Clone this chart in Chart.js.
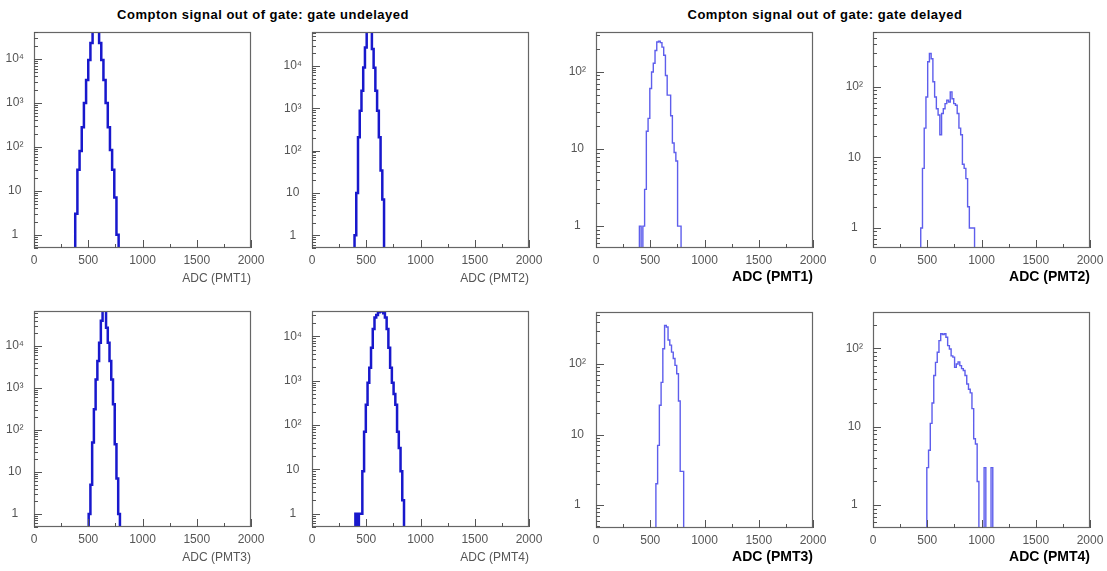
<!DOCTYPE html>
<html>
<head>
<meta charset="utf-8">
<title>Compton signal out of gate</title>
<script src="https://cdn.jsdelivr.net/npm/chart.js@4.4.1/dist/chart.umd.min.js"></script>
<style>
  body { margin: 0; background: #fff; width: 1107px; height: 571px; position: relative; overflow: hidden;
         font-family: "Liberation Sans", Arial, sans-serif; }
  .title { position: absolute; top: 7px; font-weight: bold; font-size: 13px; letter-spacing: 0.5px;
           color: #000; white-space: nowrap; transform: translateX(-50%); }
  canvas { position: absolute; }
</style>
</head>
<body>
<div class="title" style="left:263px">Compton signal out of gate: gate undelayed</div>
<div class="title" style="left:825px">Compton signal out of gate: gate delayed</div>
<canvas id="u0"></canvas><canvas id="u1"></canvas><canvas id="d0"></canvas><canvas id="d1"></canvas>
<canvas id="u2"></canvas><canvas id="u3"></canvas><canvas id="d2"></canvas><canvas id="d3"></canvas>
<script>
var xTicks = [0, 500, 1000, 1500, 2000];
var adcLabels = ['ADC (PMT1)', 'ADC (PMT2)', 'ADC (PMT3)', 'ADC (PMT4)'];

// gate undelayed: counts per ADC bin
var undelayedPMT1 = [3, 30, 80, 280, 1000, 3300, 9500, 23000, 60000, 70000, 55000, 23000, 9500, 3300, 1000, 280, 85, 30, 7, 1];
var undelayedPMT2 = [1, 10, 205, 870, 2600, 9100, 27000, 70000, 90000, 70000, 25000, 9000, 2600, 870, 205, 34, 7];
var undelayedPMT3 = [1, 5, 50, 310, 1600, 4400, 12000, 40000, 90000, 80000, 27000, 12000, 4400, 1600, 410, 46, 7, 1];
var undelayedPMT4 = [1, 0, 1, 1, 9, 70, 285, 890, 1940, 5500, 14500, 26500, 30000, 34500, 36000, 36000, 33000, 26500, 14500, 5500, 1940, 890, 500, 285, 70, 30, 9, 2];
var undelayedStart = [380, 392, 504, 400];
var undelayedBin = [20, 16, 16, 16];
var undelayedYMin = [0.5, 0.5, 0.49, 0.5];
var undelayedYMax = [41000, 63000, 68000, 37000];

// gate delayed: counts per ADC bin
var delayedPMT1 = [1, 0, 1, 3, 17, 25, 61, 100, 130, 190, 245, 250, 240, 210, 165, 90, 50, 50, 27, 12, 9, 7, 1, 1];
var delayedPMT2 = [1, 7, 26, 72, 227, 297, 250, 118, 72, 49, 40, 21, 42, 49, 58, 65, 61, 85, 68, 58, 55, 42, 26, 21, 8, 7, 5, 2, 1, 1, 1];
var delayedPMT3 = [2, 7, 26, 55, 165, 355, 337, 220, 186, 148, 120, 96, 73, 30, 3, 3];
var delayedPMT4 = [3, 5, 11, 20, 45, 66, 89, 125, 153, 150, 153, 138, 108, 98, 80, 77, 57, 63, 67, 60, 55, 52, 45, 35, 30, 27, 17, 7, 6, 2, 0, 0, 0, 3, 0, 0, 0, 3];
var delayedStart = [400, 440, 552, 496];
var delayedBin = [16, 16, 16, 16];
var delayedYMin = [0.52, 0.52, 0.47, 0.51];
var delayedYMax = [330, 600, 550, 290];

// frame corners of the 8 pads (top-left), each frame 217 x 216
var padLeft = [34, 312, 596, 873];
var padTop = [32, 311];
var AXIS_W = 40, AXIS_H = 42, PAD_TOP = 10, PAD_RIGHT = 22, FRAME_W = 217, FRAME_H = 216;

var supers = { '2': '\u00b2', '3': '\u00b3', '4': '\u2074', '5': '\u2075' };

// ROOT-style frame and inward ticks
var rootFrame = {
  id: 'rootFrame',
  afterDraw: function(chart) {
    var ctx = chart.ctx, a = chart.chartArea;
    var xs = chart.scales.x, ys = chart.scales.y;
    ctx.save();
    ctx.strokeStyle = '#666';
    ctx.lineWidth = 1.2;
    ctx.strokeRect(a.left + 0.5, a.top + 0.5, a.right - a.left - 1, a.bottom - a.top - 1);
    ctx.lineWidth = 1;
    ctx.strokeStyle = '#555';
    ctx.beginPath();
    for (var v = 0; v <= 2000; v += 250) {
      var px = Math.round(xs.getPixelForValue(v)) + 0.5;
      var len = (v % 500 === 0) ? 8 : 4;
      ctx.moveTo(px, a.bottom);
      ctx.lineTo(px, a.bottom - len);
    }
    var e0 = Math.floor(Math.log10(ys.min)), e1 = Math.ceil(Math.log10(ys.max));
    for (var e = e0; e <= e1; e++) {
      for (var k = 1; k <= 9; k++) {
        var val = k * Math.pow(10, e);
        if (val < ys.min || val > ys.max) continue;
        var py = Math.round(ys.getPixelForValue(val)) + 0.5;
        ctx.moveTo(a.left, py);
        ctx.lineTo(a.left + (k === 1 ? 8 : 4), py);
      }
    }
    ctx.stroke();
    ctx.restore();
  }
};

function histPoints(counts, start, bin) {
  var pts = [{x: start, y: 0.1}];
  for (var i = 0; i < counts.length; i++) {
    pts.push({x: start + i * bin, y: counts[i] > 0 ? counts[i] : 0.1});
  }
  pts.push({x: start + counts.length * bin, y: 0.1});
  return pts;
}

function logLabel(value) {
  var e = Math.round(Math.log10(value));
  if (Math.abs(Math.log10(value) - e) > 1e-6) return '';
  if (e === 0) return '1';
  if (e === 1) return '10';
  return '10' + supers[String(e)];
}

function noPad(s) {
  s.paddingLeft = 0; s.paddingRight = 0; s.paddingTop = 0; s.paddingBottom = 0;
}

function drawPad(id, left, top, counts, start, bin, yMin, yMax, label, delayed) {
  var canvas = document.getElementById(id);
  canvas.width = AXIS_W + FRAME_W + PAD_RIGHT;
  canvas.height = PAD_TOP + FRAME_H + AXIS_H;
  canvas.style.left = (left - AXIS_W) + 'px';
  canvas.style.top = (top - PAD_TOP) + 'px';

  var tickFont = {family: '"Liberation Sans", Arial, sans-serif', size: 12};
  var titleFont = delayed ? {family: '"Liberation Sans", Arial, sans-serif', size: 14, weight: 'bold'}
                          : {family: '"Liberation Sans", Arial, sans-serif', size: 12};

  new Chart(canvas, {
    type: 'line',
    data: {
      datasets: [{
        data: histPoints(counts, start, bin),
        stepped: true,
        borderColor: delayed ? '#5e5eec' : '#1818cc',
        borderWidth: delayed ? 1.4 : 2.5,
        pointRadius: 0,
        fill: false
      }]
    },
    options: {
      responsive: false,
      animation: false,
      events: [],
      devicePixelRatio: 1,
      layout: {padding: {top: PAD_TOP, right: PAD_RIGHT, left: 0, bottom: 0}},
      plugins: {legend: {display: false}, tooltip: {enabled: false}},
      scales: {
        x: {
          type: 'linear', min: 0, max: 2000, bounds: 'data',
          afterBuildTicks: function(s) { s.ticks = xTicks.map(function(v) { return {value: v}; }); },
          afterFit: function(s) { s.height = AXIS_H; noPad(s); },
          grid: {display: false, drawTicks: false},
          border: {display: false},
          ticks: {padding: 5, color: '#555', font: tickFont, maxRotation: 0, autoSkip: false,
                  callback: function(v) { return String(v); }},
          title: {display: true, text: label, align: 'end', color: delayed ? '#000' : '#555',
                  font: titleFont, padding: {top: 0, bottom: 4}}
        },
        y: {
          type: 'logarithmic', min: yMin, max: yMax, bounds: 'data',
          afterBuildTicks: function(s) {
            var t = [];
            for (var e = Math.ceil(Math.log10(yMin)); Math.pow(10, e) <= yMax; e++) t.push({value: Math.pow(10, e)});
            s.ticks = t;
          },
          afterFit: function(s) { s.width = AXIS_W; noPad(s); },
          grid: {display: false, drawTicks: false},
          border: {display: false},
          ticks: {padding: 10, crossAlign: 'center', color: '#555', font: tickFont, callback: logLabel}
        }
      }
    },
    plugins: [rootFrame]
  });
}

var undelayed = [undelayedPMT1, undelayedPMT2, undelayedPMT3, undelayedPMT4];
var delayed = [delayedPMT1, delayedPMT2, delayedPMT3, delayedPMT4];

for (var i = 0; i < 4; i++) {
  var row = Math.floor(i / 2), col = i % 2;
  drawPad('u' + i, padLeft[col], padTop[row], undelayed[i], undelayedStart[i], undelayedBin[i],
          undelayedYMin[i], undelayedYMax[i], adcLabels[i], false);
  drawPad('d' + i, padLeft[col + 2], padTop[row] + (row ? 1 : 0), delayed[i], delayedStart[i], delayedBin[i],
          delayedYMin[i], delayedYMax[i], adcLabels[i], true);
}
</script>
</body>
</html>
